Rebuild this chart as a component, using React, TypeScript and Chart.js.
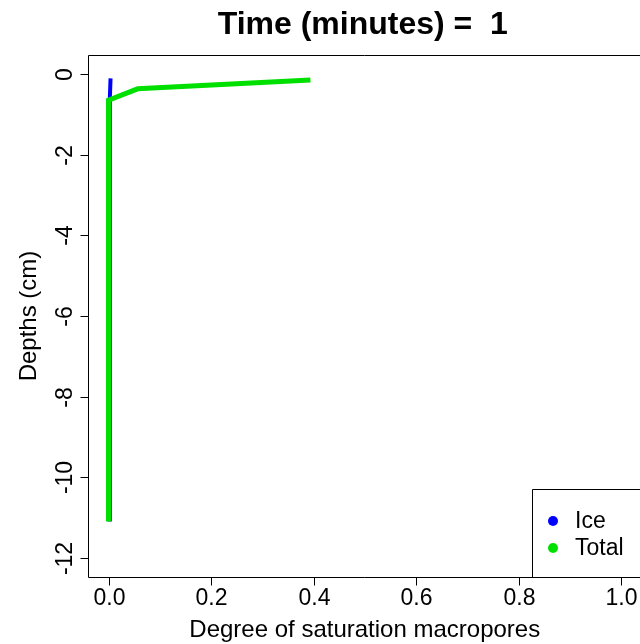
import React, { useEffect, useRef } from "react";
import { Chart, registerables } from "chart.js";

Chart.register(...registerables);

// ---- data ----
const totalSaturation = [0.394, 0.057, 0.0, 0.0];
const totalDepths = [-0.14, -0.36, -0.64, -11.1];
const iceSaturation = [0.004, 0.0025, 0.0025];
const iceDepths = [-0.1, -0.64, -11.1];

const xTicks = [0, 0.2, 0.4, 0.6, 0.8, 1.0];
const xTickLabels = ["0.0", "0.2", "0.4", "0.6", "0.8", "1.0"];
const yTicks = [0, -2, -4, -6, -8, -10, -12];
const yTickLabels = ["0", "-2", "-4", "-6", "-8", "-10", "-12"];

const titleText = "Time (minutes) =  1";
const xTitle = "Degree of saturation macropores";
const yTitle = "Depths (cm)";
const legendLabels = ["Ice", "Total"];
const legendColors = ["#0000ff", "#00e000"];

const FONT = '"Liberation Sans", Arial, sans-serif';

const rPlot = {
  id: "rPlot",
  afterDraw(chart: any) {
    const ctx = chart.ctx as CanvasRenderingContext2D;
    const a = chart.chartArea;
    const xs = chart.scales.x;
    const ys = chart.scales.y;
    const L = Math.round(a.left) + 0.5;
    const T = Math.round(a.top) + 0.5;
    const B = Math.round(a.bottom) + 0.5;
    ctx.save();
    ctx.strokeStyle = "#000";
    ctx.lineWidth = 1;
    // box (right edge off-screen)
    ctx.beginPath();
    ctx.moveTo(700, T);
    ctx.lineTo(L, T);
    ctx.lineTo(L, B);
    ctx.lineTo(700, B);
    ctx.stroke();

    ctx.fillStyle = "#000";
    ctx.font = `23px ${FONT}`;
    // x ticks
    xTicks.forEach((t, i) => {
      const px = Math.round(xs.getPixelForValue(t)) + 0.5;
      ctx.beginPath();
      ctx.moveTo(px, B);
      ctx.lineTo(px, B + 8);
      ctx.stroke();
      ctx.textAlign = "center";
      ctx.textBaseline = "middle";
      ctx.fillText(xTickLabels[i], px, 599);
    });
    // y ticks
    yTicks.forEach((t, i) => {
      const py = Math.round(ys.getPixelForValue(t)) + 0.5;
      ctx.beginPath();
      ctx.moveTo(L - 8, py);
      ctx.lineTo(L, py);
      ctx.stroke();
      ctx.save();
      ctx.translate(66, py);
      ctx.rotate(-Math.PI / 2);
      ctx.textAlign = "center";
      ctx.textBaseline = "middle";
      ctx.fillText(yTickLabels[i], 0, 0);
      ctx.restore();
    });
    // axis titles
    const cx = (a.left + xs.getPixelForValue(1.04)) / 2;
    ctx.font = `24px ${FONT}`;
    ctx.textAlign = "center";
    ctx.textBaseline = "middle";
    ctx.fillText(xTitle, cx, 630);
    ctx.save();
    ctx.translate(29, (a.top + a.bottom) / 2);
    ctx.rotate(-Math.PI / 2);
    ctx.fillText(yTitle, 0, 0);
    ctx.restore();
    // main title
    ctx.font = `bold 32px ${FONT}`;
    ctx.fillText(titleText, cx - 2, 25);

    // legend
    ctx.font = `23px ${FONT}`;
    ctx.beginPath();
    ctx.moveTo(532.5, B);
    ctx.lineTo(532.5, 489.5);
    ctx.lineTo(700, 489.5);
    ctx.stroke();
    legendLabels.forEach((lab, i) => {
      const y = 521 + i * 27;
      ctx.fillStyle = legendColors[i];
      ctx.beginPath();
      ctx.arc(553, y, 5, 0, Math.PI * 2);
      ctx.fill();
      ctx.fillStyle = "#000";
      ctx.textAlign = "left";
      ctx.textBaseline = "middle";
      ctx.fillText(lab, 575, y + 1);
    });
    ctx.restore();
  },
};

export default function App() {
  const ref = useRef<HTMLCanvasElement>(null);
  useEffect(() => {
    if (!ref.current) return;
    const chart = new Chart(ref.current, {
      type: "scatter",
      data: {
        datasets: [
          {
            label: legendLabels[1],
            data: totalSaturation.map((v, i) => ({ x: v, y: totalDepths[i] })),
            showLine: true,
            borderColor: legendColors[1],
            backgroundColor: legendColors[1],
            borderWidth: 5,
            pointRadius: 0,
            order: 0,
          },
          {
            label: legendLabels[0],
            data: iceSaturation.map((v, i) => ({ x: v, y: iceDepths[i] })),
            showLine: true,
            borderColor: legendColors[0],
            backgroundColor: legendColors[0],
            borderWidth: 4,
            pointRadius: 0,
            order: 1,
          },
        ],
      },
      options: {
        responsive: false,
        animation: false,
        layout: { padding: { left: 88, top: 55, right: 0, bottom: 67 } },
        plugins: { legend: { display: false }, title: { display: false }, tooltip: { enabled: false } },
        scales: {
          x: { type: "linear", min: -0.04, max: 1.037, display: false },
          y: { type: "linear", min: -12.48, max: 0.48, display: false },
        },
      },
      plugins: [rPlot],
    });
    return () => chart.destroy();
  }, []);
  return (
    <div style={{ position: "absolute", left: 0, top: 0, width: 640, height: 644, background: "#fff" }}>
      <canvas ref={ref} width={640} height={644} />
    </div>
  );
}
